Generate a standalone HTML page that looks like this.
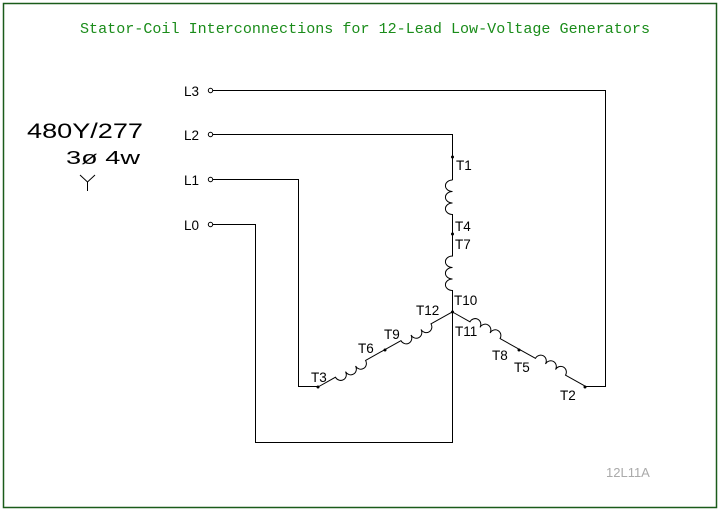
<!DOCTYPE html>
<html><head><style>body{margin:0;background:#fff}</style></head><body>
<svg width="721" height="512" xmlns="http://www.w3.org/2000/svg" font-family="Liberation Sans, sans-serif">
<rect x="3.5" y="3.5" width="713" height="504" fill="none" stroke="#1a5c1a" stroke-width="1.5"/>
<text x="80" y="33" textLength="570" lengthAdjust="spacingAndGlyphs" font-family="Liberation Mono, monospace" font-size="15" fill="#1a8c1a">Stator-Coil Interconnections for 12-Lead Low-Voltage Generators</text>
<g fill="#000"><text x="27" y="138" font-size="21" textLength="116" lengthAdjust="spacingAndGlyphs">480Y/277</text><text x="66" y="164" font-size="18" textLength="74" lengthAdjust="spacingAndGlyphs">3ø  4w</text></g>
<path d="M80 175 L87.5 182 L95 175 M87.5 182 V191" stroke="#000" fill="none"/>
<g font-size="13.5" fill="#000">
<text x="184" y="96">L3</text><text x="184" y="140">L2</text><text x="184" y="185">L1</text><text x="184" y="230">L0</text>
<text x="456" y="170">T1</text><text x="455" y="231">T4</text><text x="455" y="249">T7</text><text x="454" y="305">T10</text>
<text x="416" y="315">T12</text><text x="455" y="336">T11</text><text x="384" y="339">T9</text><text x="358" y="353">T6</text>
<text x="311" y="382">T3</text><text x="492" y="360">T8</text><text x="514" y="372">T5</text><text x="560" y="400">T2</text>
</g>
<text x="606" y="477" font-size="13" fill="#aaa">12L11A</text>
<g stroke="#000" stroke-width="1" fill="none">
<circle cx="210.5" cy="90.5" r="2.2"/><circle cx="210.5" cy="134.5" r="2.2"/><circle cx="210.5" cy="179.5" r="2.2"/><circle cx="210.5" cy="224.5" r="2.2"/>
<path d="M213 90.5 H605.5 V386.5 H585"/>
<path d="M213 134.5 H452.5 V180"/>
<path d="M213 179.5 H298.5 V386.5 H318"/>
<path d="M213 224.5 H255.5 V442.5 H452.5 V312"/>
<g transform="translate(452.5,0) rotate(90)">
<path d="M180 0 A5.7 7 0 0 0 191.5 0 A5.7 7 0 0 0 203 0 A5.7 7 0 0 0 214.5 0 L256 0 A5.7 7 0 0 0 267.5 0 A5.7 7 0 0 0 279 0 A5.7 7 0 0 0 290.5 0 L312 0"/>
</g>
<g transform="translate(318,387) rotate(-29.2)">
<path d="M0 0 L20 0 A5.7 6 0 0 0 31.5 0 A5.7 6 0 0 0 43 0 A5.7 6 0 0 0 54.5 0 L95 0 A5.7 6 0 0 0 106.5 0 A5.7 6 0 0 0 118 0 A5.7 6 0 0 0 129.5 0 L153.6 0"/>
</g>
<g transform="translate(452.5,312) rotate(29.2)">
<path d="M0 0 L20 0 A5.7 6 0 0 1 31.5 0 A5.7 6 0 0 1 43 0 A5.7 6 0 0 1 54.5 0 L95 0 A5.7 6 0 0 1 106.5 0 A5.7 6 0 0 1 118 0 A5.7 6 0 0 1 129.5 0 L153.6 0"/>
</g>
</g>
<g fill="#000"><circle cx="452.5" cy="157" r="1.5"/><circle cx="452.5" cy="234" r="1.5"/><circle cx="452.5" cy="312" r="1.5"/>
<circle cx="318" cy="387" r="1.5"/><circle cx="385" cy="350" r="1.5"/><circle cx="519" cy="350" r="1.5"/><circle cx="585" cy="387" r="1.5"/></g>
</svg>
</body></html>
